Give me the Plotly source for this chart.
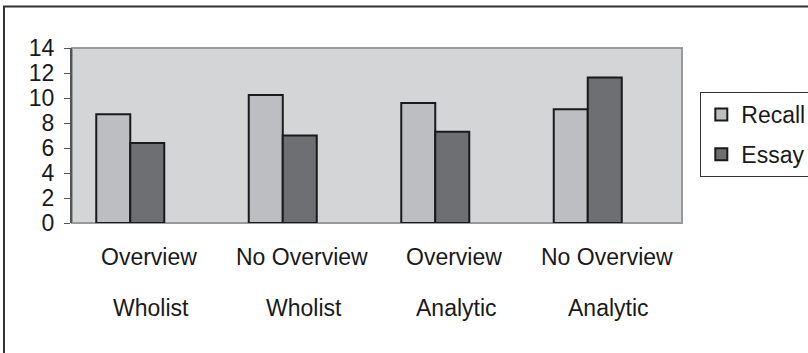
import plotly.graph_objects as go

conditions = ["Overview", "No Overview", "Overview", "No Overview"]
styles = ["Wholist", "Wholist", "Analytic", "Analytic"]
categories = [f"{c} {s}" for c, s in zip(conditions, styles)]
recall = [8.7, 10.25, 9.6, 9.1]
essay = [6.4, 7.0, 7.3, 11.65]
y_ticks = [0, 2, 4, 6, 8, 10, 12, 14]

FONT = "Liberation Sans, Arial, sans-serif"
TXT = "#1a1a1a"
BAR_W = 0.223
BAR_OFF = -0.341

fig = go.Figure()
fig.add_trace(go.Bar(
    x=categories, y=recall, name="Recall", legendgroup="a",
    width=BAR_W, offset=BAR_OFF,
    marker=dict(color="#bdbec2", line=dict(color="#1a1a1a", width=2)),
))
fig.add_trace(go.Bar(
    x=categories, y=essay, name="Essay", legendgroup="b",
    width=BAR_W, offset=BAR_OFF + BAR_W,
    marker=dict(color="#6e6f73", line=dict(color="#1a1a1a", width=2)),
))

annotations = []
for cat, c, s in zip(categories, conditions, styles):
    annotations.append(dict(x=cat, xref="x", y=-0.197, yref="paper", text=c,
                            showarrow=False, yanchor="middle", xshift=1,
                            font=dict(family=FONT, size=23, color=TXT)))
    annotations.append(dict(x=cat, xref="x", y=-0.486, yref="paper", text=s,
                            showarrow=False, yanchor="middle", xshift=3,
                            font=dict(family=FONT, size=23, color=TXT)))

shapes = [
    # plot area border
    dict(type="rect", xref="paper", yref="paper", x0=0, x1=1, y0=0, y1=1,
         line=dict(color="#9a9a9a", width=2), layer="below"),
    # outer chart frame (extends off-canvas at right and bottom)
    dict(type="rect", xref="paper", yref="paper", x0=-0.1115, x1=1.3, y0=-1.0, y1=1.237,
         line=dict(color="#333333", width=2), fillcolor="rgba(0,0,0,0)"),
]

fig.update_layout(
    width=808, height=353,
    margin=dict(l=72, r=126, t=48, b=130, autoexpand=False),
    paper_bgcolor="white",
    plot_bgcolor="#d4d5d7",
    barmode="overlay",
    font=dict(family=FONT, size=23, color=TXT),
    showlegend=True,
    legend=dict(
        x=1.03, y=0.749, xanchor="left", yanchor="top",
        bordercolor="#333333", borderwidth=1, bgcolor="white",
        font=dict(family=FONT, size=23, color=TXT),
        traceorder="grouped", tracegroupgap=7,
    ),
    xaxis=dict(showticklabels=False, showgrid=False, showline=False,
               ticks="", zeroline=False),
    yaxis=dict(range=[0, 14], tickvals=y_ticks, showgrid=False, zeroline=False,
               showline=True, linecolor="#555555", linewidth=2,
               ticks="outside", ticklen=6, tickcolor="#555555",
               ticklabelstandoff=5,
               tickfont=dict(family=FONT, size=23, color=TXT)),
    annotations=annotations,
    shapes=shapes,
)

fig.write_html("out.html")
